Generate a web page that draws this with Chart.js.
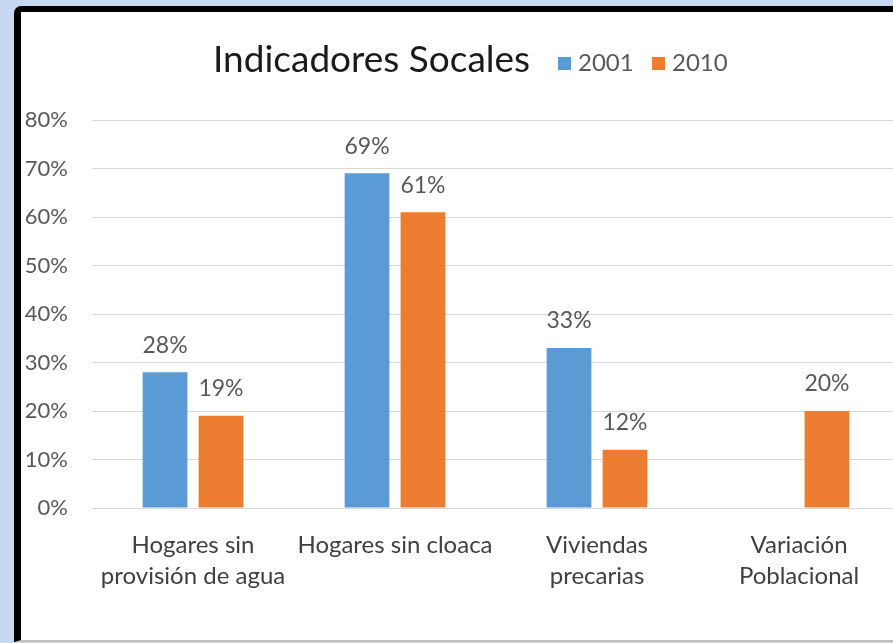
<!DOCTYPE html>
<html>
<head>
<meta charset="utf-8">
<script src="https://cdn.jsdelivr.net/npm/chart.js@4.4.0/dist/chart.umd.min.js"></script>
<style>
  html, body { margin: 0; padding: 0; }
  body { width: 893px; height: 643px; overflow: hidden; background: #c6d9f0; position: relative; }
  #frame {
    position: absolute; left: 14px; top: 6px; width: 920px; height: 628px;
    background: #fff; border-left: 7px solid #000; border-top: 6px solid #000;
    border-bottom: 2px solid #bfbfbf; border-top-left-radius: 7px;
  }
  #wrap { position: absolute; left: 0; top: 0; width: 900px; height: 628px; }
</style>
</head>
<body>
<div id="frame"><div id="wrap"><canvas id="chart"></canvas></div></div>
<script>
// Indicadores sociales, 2001 vs 2010 (in %)
const categories = [
    ['Hogares sin', 'provisión de agua'],
    'Hogares sin cloaca',
    ['Viviendas', 'precarias'],
    ['Variación', 'Poblacional']
];
const years = ['2001', '2010'];
const values2001 = [28, 69, 33, null];
const values2010 = [19, 61, 12, 20];
const yTicks = [0, 10, 20, 30, 40, 50, 60, 70, 80];

const FONT = 'Lato, "Open Sans", sans-serif';
const LABEL_GRAY = '#595959';

// title + inline legend, drawn on one line like the Excel original
const headerPlugin = {
    id: 'header',
    afterDraw(chart) {
        const ctx = chart.ctx;
        ctx.save();
        ctx.textBaseline = 'alphabetic';
        ctx.font = '37px ' + FONT;
        ctx.fillStyle = '#1a1a1a';
        ctx.textAlign = 'left';
        ctx.fillText('Indicadores Socales', 192, 60);

        ctx.font = '24px ' + FONT;
        let x = 537;
        chart.data.datasets.forEach(ds => {
            ctx.fillStyle = ds.backgroundColor;
            ctx.fillRect(x, 45, 13, 13);
            ctx.fillStyle = LABEL_GRAY;
            ctx.fillText(ds.label, x + 20, 59);
            x += 94;
        });
        ctx.restore();
    }
};

// percentage labels above each bar
const valueLabels = {
    id: 'valueLabels',
    afterDatasetsDraw(chart) {
        const ctx = chart.ctx;
        ctx.save();
        ctx.font = '23px ' + FONT;
        ctx.fillStyle = LABEL_GRAY;
        ctx.textAlign = 'center';
        ctx.textBaseline = 'middle';
        chart.data.datasets.forEach((ds, i) => {
            chart.getDatasetMeta(i).data.forEach((bar, j) => {
                const v = ds.data[j];
                if (v === null || v === undefined) return;
                ctx.fillText(v + '%', bar.x, bar.y - 27);
            });
        });
        ctx.restore();
    }
};

new Chart(document.getElementById('chart'), {
    type: 'bar',
    data: {
        labels: categories,
        datasets: [{
            label: years[0],
            data: values2001,
            backgroundColor: '#5b9bd5'
        }, {
            label: years[1],
            data: values2010,
            backgroundColor: '#ed7d31'
        }]
    },
    options: {
        responsive: true,
        maintainAspectRatio: false,
        animation: false,
        categoryPercentage: 0.554,
        barPercentage: 0.8,
        layout: { padding: { top: 108, left: 0, right: 21, bottom: 0 } },
        plugins: {
            legend: { display: false },
            title: { display: false },
            tooltip: { enabled: false }
        },
        scales: {
            x: {
                grid: { display: false },
                border: { color: '#d9d9d9' },
                ticks: {
                    color: '#404040',
                    font: { family: FONT, size: 24, lineHeight: 1.29 },
                    padding: 14,
                    maxRotation: 0,
                    autoSkip: false
                },
                afterFit(scale) { scale.height = 132; }
            },
            y: {
                min: 0,
                max: 80,
                afterBuildTicks(scale) { scale.ticks = yTicks.map(v => ({ value: v })); },
                grid: { color: '#d9d9d9', drawTicks: false },
                border: { display: false },
                ticks: {
                    color: LABEL_GRAY,
                    font: { family: FONT, size: 22 },
                    padding: 24,
                    callback: v => v + '%'
                },
                afterFit(scale) { scale.width = 71; }
            }
        }
    },
    plugins: [headerPlugin, valueLabels]
});
</script>
</body>
</html>
